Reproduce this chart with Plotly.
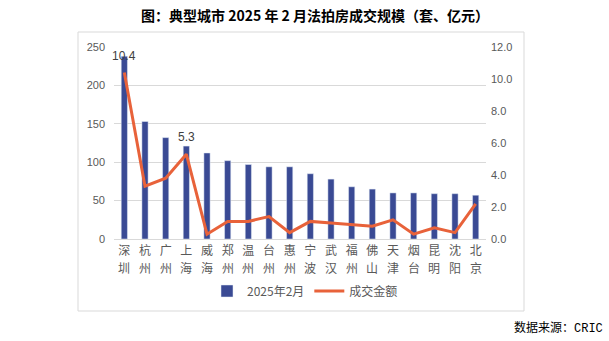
import plotly.graph_objects as go

cities = ["深圳", "杭州", "广州", "上海", "威海", "郑州", "温州", "台州", "惠州",
          "宁波", "武汉", "福州", "佛山", "天津", "烟台", "昆明", "沈阳", "北京"]
counts = [238, 153, 132, 121, 112, 102, 97, 94, 94, 85, 78, 68, 65, 60, 60, 59, 59, 57]
amounts = [10.4, 3.3, 3.8, 5.3, 0.3, 1.1, 1.1, 1.4, 0.4, 1.1, 1.0, 0.9, 0.8, 1.2, 0.3, 0.7, 0.4, 2.2]
labels_shown = ["10.4", "", "", "5.3"] + [""] * 14

W, H = 609, 341
L, R, T, B = 114, 486, 47, 239
pw, ph = R - L, B - T

def px(x):
    return (x - L) / pw

def py(y):
    return (B - y) / ph

fig = go.Figure()
fig.add_trace(go.Bar(x=cities, y=counts, name="2025年2月", marker_color="#3A4A94",
                     width=0.3, yaxis="y"))
fig.add_trace(go.Scatter(x=cities, y=amounts, name="成交金额", mode="lines",
                         line=dict(color="#E8623A", width=3),
                         yaxis="y2", cliponaxis=False))

for c, a, lbl in zip(cities, amounts, labels_shown):
    if lbl:
        fig.add_annotation(text=lbl, xref="x", yref="y2", x=c, y=a, yshift=17,
                           xanchor="center", yanchor="middle", showarrow=False,
                           font=dict(size=12, color="#404040", family="Liberation Sans"))

fig.update_layout(
    width=W, height=H,
    margin=dict(l=L, r=W - R, t=T, b=H - B, pad=0),
    paper_bgcolor="white", plot_bgcolor="white",
    font=dict(family="Noto Sans CJK SC", color="#595959"),
    title=dict(text="<b>图：典型城市 2025 年 2 月法拍房成交规模（套、亿元）</b>",
               x=315 / W, xanchor="center", y=1 - 16 / H, yanchor="middle",
               font=dict(size=14, color="#000000", family="Noto Sans CJK SC")),
    xaxis=dict(range=[-0.5, len(cities) - 0.5], tickmode="array",
               tickvals=cities, ticktext=[c[0] for c in cities],
               tickfont=dict(size=12, color="#595959"), showgrid=False,
               showline=True, linecolor="#D9D9D9", linewidth=1, ticks="",
               ticklabelstandoff=1),
    yaxis=dict(range=[0, 250], dtick=50, showgrid=True, gridcolor="#D9D9D9",
               tickfont=dict(size=11, color="#595959", family="Liberation Sans"),
               zeroline=False, showline=False, ticklabelstandoff=8),
    yaxis2=dict(range=[0, 12], dtick=2, tickformat=".1f", overlaying="y", side="right",
                showgrid=False, zeroline=False, showline=False,
                tickfont=dict(size=11, color="#595959", family="Liberation Sans"),
                ticklabelstandoff=4),
    legend=dict(orientation="h", x=px(305), xanchor="center", y=py(291), yanchor="middle",
                font=dict(size=12, color="#595959"), bgcolor="rgba(0,0,0,0)",
                itemwidth=30),
    showlegend=True,
)

# vertical (stacked) category labels: second character below the tick label
for c in cities:
    fig.add_annotation(text=c[1], xref="x", yref="paper", x=c, y=py(267),
                       xanchor="center", yanchor="middle", showarrow=False,
                       font=dict(size=12, color="#595959"))

fig.add_shape(type="rect", xref="paper", yref="paper",
              x0=px(78), x1=px(524), y0=py(311), y1=py(32),
              line=dict(color="#D9D9D9", width=1), layer="below")

fig.add_annotation(text="数据来源：<span style='font-family:Liberation Mono'>CRIC</span>",
                   xref="paper", yref="paper",
                   x=px(605), y=py(327), xanchor="right", yanchor="middle",
                   showarrow=False, font=dict(size=12, color="#000000"))

fig.write_html("out.html")
